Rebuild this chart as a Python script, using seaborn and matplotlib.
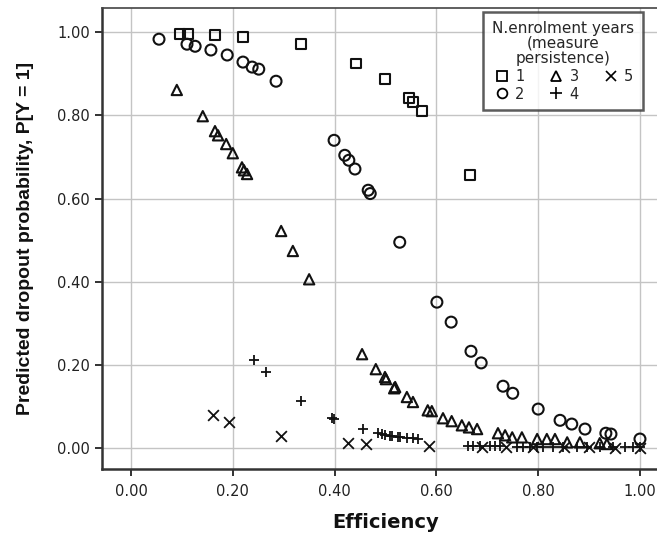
import matplotlib
matplotlib.use("Agg")
import matplotlib.pyplot as plt
from matplotlib.lines import Line2D
import seaborn as sns
import pandas as pd

# Group 1 (squares)
g1_x = [0.096, 0.112, 0.165, 0.220, 0.334, 0.442, 0.499, 0.546, 0.554, 0.572, 0.666]
g1_y = [0.995, 0.995, 0.993, 0.988, 0.971, 0.925, 0.887, 0.841, 0.832, 0.810, 0.656]

# Group 2 (circles)
g2_x = [0.055, 0.110, 0.126, 0.157, 0.189, 0.220, 0.238, 0.251, 0.285, 0.399, 0.420, 0.428,
        0.440, 0.466, 0.470, 0.528, 0.601, 0.629, 0.668, 0.688, 0.731, 0.750, 0.800, 0.843,
        0.866, 0.892, 0.933, 0.943, 1.000]
g2_y = [0.983, 0.971, 0.966, 0.957, 0.945, 0.928, 0.916, 0.911, 0.882, 0.740, 0.704, 0.692,
        0.671, 0.620, 0.612, 0.495, 0.351, 0.303, 0.233, 0.205, 0.149, 0.132, 0.094, 0.067,
        0.058, 0.046, 0.036, 0.034, 0.022]

# Group 3 (triangles)
g3_x = [0.090, 0.141, 0.165, 0.171, 0.187, 0.200, 0.218, 0.222, 0.228, 0.295, 0.318, 0.350,
        0.454, 0.481, 0.499, 0.501, 0.517, 0.519, 0.542, 0.554, 0.583, 0.591, 0.613, 0.630,
        0.650, 0.664, 0.680, 0.721, 0.735, 0.749, 0.768, 0.798, 0.817, 0.833, 0.857, 0.882,
        0.921, 0.935]
g3_y = [0.861, 0.798, 0.762, 0.752, 0.731, 0.709, 0.675, 0.668, 0.659, 0.522, 0.474, 0.406,
        0.226, 0.190, 0.171, 0.166, 0.144, 0.147, 0.123, 0.111, 0.091, 0.089, 0.072, 0.065,
        0.055, 0.050, 0.046, 0.036, 0.031, 0.026, 0.026, 0.022, 0.022, 0.022, 0.014, 0.014,
        0.012, 0.010]

# Group 4 (plus)
g4_x = [0.242, 0.265, 0.334, 0.395, 0.399, 0.456, 0.485, 0.493, 0.499, 0.509, 0.513, 0.525,
        0.528, 0.542, 0.554, 0.564, 0.662, 0.672, 0.686, 0.705, 0.715, 0.725, 0.758, 0.770,
        0.784, 0.798, 0.809, 0.829, 0.849, 0.876, 0.896, 0.921, 0.947, 0.971, 0.987, 1.000]
g4_y = [0.212, 0.183, 0.113, 0.072, 0.070, 0.046, 0.036, 0.034, 0.031, 0.029, 0.029, 0.027,
        0.026, 0.025, 0.024, 0.022, 0.006, 0.006, 0.006, 0.005, 0.005, 0.005, 0.004, 0.004,
        0.004, 0.004, 0.003, 0.003, 0.003, 0.003, 0.002, 0.002, 0.002, 0.002, 0.002, 0.002]

# Group 5 (x)
g5_x = [0.161, 0.193, 0.295, 0.426, 0.462, 0.585, 0.690, 0.737, 0.790, 0.850, 0.900, 0.950, 1.000]
g5_y = [0.079, 0.063, 0.029, 0.012, 0.010, 0.005, 0.004, 0.004, 0.003, 0.002, 0.002, 0.001, 0.001]

group_labels = ["1", "2", "3", "4", "5"]
x_ticks = [0.0, 0.2, 0.4, 0.6, 0.8, 1.0]
y_ticks = [0.0, 0.2, 0.4, 0.6, 0.8, 1.0]

sns.set_style("white")
plt.rcParams['font.family'] = ['DejaVu Sans']

fig = plt.figure(figsize=(6.57, 5.34), dpi=100)
# plot area extends slightly past the right edge of the image (cropped like the reference)
ax = fig.add_axes([102 / 657, 65 / 534, 568 / 657, 461 / 534])

groups = [(g1_x, g1_y, "s", True), (g2_x, g2_y, "o", True), (g3_x, g3_y, "^", True),
          (g4_x, g4_y, "+", False), (g5_x, g5_y, "x", False)]

ax.grid(True, color="#c4c4c4", linewidth=1.0)
ax.set_axisbelow(True)

for (gx, gy, m, filled), lab in zip(groups, group_labels):
    df = pd.DataFrame({"x": gx, "y": gy})
    if filled:
        size = {"s": 48, "o": 62, "^": 55}[m]
        sns.scatterplot(data=df, x="x", y="y", marker=m, s=size, facecolors="none",
                        edgecolor="#111111", linewidth=1.5, ax=ax, zorder=3)
    else:
        sns.scatterplot(data=df, x="x", y="y", marker=m, s=60, color="#111111",
                        linewidth=1.3, ax=ax, zorder=3)

ax.set_xlim(-0.057, 1.059)
ax.set_ylim(-0.05, 1.058)
ax.set_xticks(x_ticks)
ax.set_xticklabels([f"{v:.2f}" for v in x_ticks])
ax.set_yticks(y_ticks)
ax.set_yticklabels([f"{v:.2f}" for v in y_ticks])
ax.tick_params(axis="both", direction="out", length=5, width=1.3, color="#222222",
               labelsize=10.5, labelcolor="#222222", bottom=True, left=True)
ax.tick_params(axis="x", pad=6)

for sp in ["left", "bottom"]:
    ax.spines[sp].set_color("#333333")
    ax.spines[sp].set_linewidth(1.8)
for sp in ["top", "right"]:
    ax.spines[sp].set_color("#444444")
    ax.spines[sp].set_linewidth(1.2)

ax.set_xlabel("Efficiency", fontsize=14, fontweight="bold", labelpad=10, color="#111111")
ax.set_ylabel("Predicted dropout probability, P[Y = 1]", fontsize=14, fontweight="bold",
              labelpad=17, color="#111111", family=["Liberation Sans", "DejaVu Sans"])

handles = [
    Line2D([], [], marker="s", linestyle="none", markerfacecolor="none", markeredgecolor="black", markersize=6.5, markeredgewidth=1.3),
    Line2D([], [], marker="o", linestyle="none", markerfacecolor="none", markeredgecolor="black", markersize=7, markeredgewidth=1.3),
    Line2D([], [], marker="^", linestyle="none", markerfacecolor="none", markeredgecolor="black", markersize=7, markeredgewidth=1.3),
    Line2D([], [], marker="+", linestyle="none", color="black", markersize=9, markeredgewidth=1.2),
    Line2D([], [], marker="x", linestyle="none", color="black", markersize=7, markeredgewidth=1.2),
]
leg = ax.legend(handles, group_labels, title="N.enrolment years\n(measure\npersistence)",
                ncol=3, loc="upper right", bbox_to_anchor=((643 - 102) / 568, (469 - 12) / 461),
                borderaxespad=0, fontsize=10.5, title_fontsize=11, frameon=True, fancybox=False,
                handletextpad=0.3, columnspacing=1.6, labelspacing=0.2, handlelength=1.2,
                borderpad=0.6)
leg.get_title().set_multialignment("center")
leg.get_title().set_linespacing(1.0)
leg.get_frame().set_edgecolor("#333333")
leg.get_frame().set_linewidth(1.8)
leg.set_zorder(5)

fig.savefig("out.png", dpi=100)
